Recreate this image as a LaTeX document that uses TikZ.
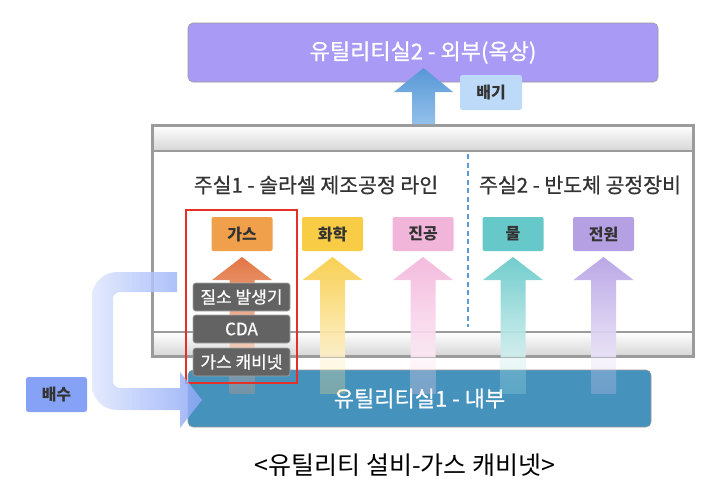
\documentclass[tikz,border=0pt]{standalone}
\usepackage{fontspec}
\setmainfont{Noto Sans CJK KR}
\newfontfamily\medf[FakeBold=0.7]{Noto Sans CJK KR}
\definecolor{ctop}{HTML}{A99AF5}
\definecolor{cexh}{HTML}{5797D6}
\definecolor{cexhl}{HTML}{93C1EA}
\definecolor{cbaegi}{HTML}{BDDAF9}
\definecolor{cframe}{HTML}{9B9B9B}
\definecolor{corgbox}{HTML}{F0A04B}
\definecolor{corgarr}{HTML}{E06A33}
\definecolor{cyel}{HTML}{F8CC45}
\definecolor{cpink}{HTML}{F2B5DA}
\definecolor{cteal}{HTML}{66C8C8}
\definecolor{cpur}{HTML}{B5A0E4}
\definecolor{ccomp}{HTML}{636363}
\definecolor{cred}{HTML}{E53027}
\definecolor{cbot}{HTML}{4592BD}
\definecolor{cret}{HTML}{8DA7F7}
\definecolor{cretl}{HTML}{DFE7FD}
\definecolor{cbaesu}{HTML}{85A2F6}
\definecolor{ctext}{HTML}{333333}
\definecolor{cdash}{HTML}{5B9BD5}
\newcommand\uparr[2]{%
  \shade[top color=#2, bottom color=#2!30, opacity=.92]
    (#1-30,280) -- (#1,257) -- (#1+30,280) -- (#1+12.5,280) -- (#1+12.5,357)
    -- (#1-12.5,357) -- (#1-12.5,280) -- cycle;
  \shade[top color=#2!40, bottom color=#2!70, opacity=.3]
    (#1-12.5,357) rectangle (#1+12.5,393);}
\begin{document}
\begin{tikzpicture}[x=1pt,y=-1pt,
  catbox/.style={rounded corners=2pt, minimum width=61pt, minimum height=34pt,
     font=\fontsize{16}{16}\selectfont\bfseries, text=ctext, inner sep=0pt},
  compbox/.style={rounded corners=2.5pt, fill=ccomp, draw=black!35, line width=.6pt,
     minimum width=97pt, minimum height=28pt, text=white,
     font=\fontsize{17}{17}\medf, inner sep=0pt},
  headtext/.style={font=\fontsize{20.5}{20.5}\medf, text=ctext},
  bigbox/.style={rounded corners=5pt, draw=black!40, line width=.6pt, text=white,
     font=\fontsize{22}{22}\medf, inner sep=0pt},
  lbl/.style={rounded corners=2.5pt, font=\fontsize{16}{16}\selectfont\bfseries,
     text=ctext, inner sep=0pt}]
\useasboundingbox (0,0) rectangle (718,490);
% frame
\shade[top color=white, bottom color=black!16] (152,125) rectangle (693,151);
\shade[top color=white, bottom color=black!16] (152,332) rectangle (693,356);
\draw[cframe, line width=3pt] (152,125) rectangle (693,356);
\draw[cframe, line width=2.5pt] (152,151) -- (693,151);
\draw[cframe, line width=2.5pt] (152,332) -- (693,332);
\coordinate (dtop) at (468,154);
\coordinate (dbot) at (468,327);
\draw[cdash, line width=2.6pt, dash pattern=on 5pt off 3.5pt] (dtop) -- (dbot);
% headings
\node[headtext] (h1) at (316,185) {주실1 - 솔라셀 제조공정 라인};
\node[headtext] (h2) at (580,185) {주실2 - 반도체 공정장비};
% category boxes
\node[catbox, fill=corgbox] (gas) at (242,234) {가스};
\node[catbox, fill=cyel] (chem) at (332.5,234) {화학};
\node[catbox, fill=cpink] (vac) at (423,234) {진공};
\node[catbox, fill=cteal] (water) at (513,234) {물};
\node[catbox, fill=cpur] (power) at (603.5,234) {전원};
% bottom box
\node[bigbox, fill=cbot, minimum width=463pt, minimum height=57pt] (util1) at (419.5,398.5) {유틸리티실1 - 내부};
% up arrows
\uparr{242}{corgarr}
\uparr{332.5}{cyel}
\uparr{423}{cpink}
\uparr{513}{cteal}
\uparr{603.5}{cpur}
% components
\node[compbox] (n2) at (241.5,297) {질소 발생기};
\node[compbox] (cda) at (241.5,329) {CDA};
\node[compbox] (cab) at (241.5,362) {가스 캐비넷};
\draw[cred, line width=2.6pt] (186,210) rectangle (297,383);
% return arrow
\shade[left color=cretl, right color=cret, opacity=.85]
  (177,272) -- (117,272) arc[start angle=270, end angle=180, radius=25]
  -- (92,385) arc[start angle=180, end angle=90, radius=25]
  -- (180,410) -- (180,428) -- (202,400) -- (180,372) -- (180,388)
  -- (120,388) arc[start angle=90, end angle=180, radius=7]
  -- (113,299) arc[start angle=180, end angle=270, radius=7]
  -- (177,292) -- cycle;
\node[lbl, fill=cbaesu, minimum width=61pt, minimum height=35pt] (baesu) at (56.5,394.5) {배수};
% top box
\node[bigbox, fill=ctop, minimum width=470pt, minimum height=59pt] (util2) at (423,52.5) {유틸리티실2 - 외부(옥상)};
\shade[top color=cexh, bottom color=cexhl]
  (394,92) -- (423.5,68) -- (453,92) -- (435,92) -- (435,124) -- (412,124) -- (412,92) -- cycle;
\node[lbl, fill=cbaegi, minimum width=62pt, minimum height=35pt] (baegi) at (491,92.5) {배기};
% caption
\node[font=\fontsize{25}{25}\selectfont, text=black] (cap) at (405,465) {<유틸리티 설비-가스 캐비넷>};
\end{tikzpicture}
\end{document}
